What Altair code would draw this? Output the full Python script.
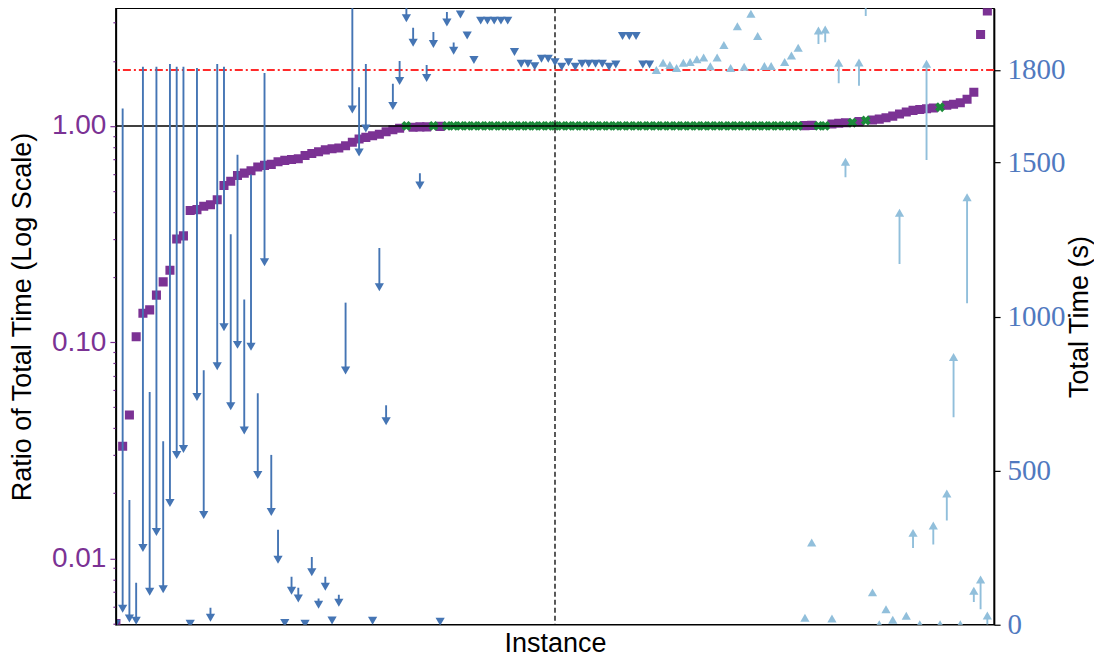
import altair as alt
import pandas as pd

# ---------------- data ----------------
instances = list(range(130))

ratio = [
    0.005, 0.033, 0.046, 0.106, 0.136, 0.141, 0.165, 0.19, 0.215, 0.30,
    0.31, 0.406, 0.41, 0.425, 0.432, 0.456, 0.53, 0.555, 0.59, 0.605,
    0.62, 0.645, 0.657, 0.664, 0.683, 0.693, 0.70, 0.705, 0.73, 0.745,
    0.76, 0.775, 0.785, 0.79, 0.81, 0.84, 0.87, 0.885, 0.90, 0.915,
    0.94, 0.96, 0.975, 1.0, 0.985, 0.99, 0.99, 1.0, 0.995,
    1.0, 1.0, 1.0, 1.0, 1.0, 1.0, 1.0, 1.0, 1.0, 1.0,
    1.0, 1.0, 1.0, 1.0, 1.0, 1.0, 1.0, 1.0, 1.0, 1.0,
    1.0, 1.0, 1.0, 1.0, 1.0, 1.0, 1.0, 1.0, 1.0, 1.0,
    1.0, 1.0, 1.0, 1.0, 1.0, 1.0, 1.0, 1.0, 1.0, 1.0,
    1.0, 1.0, 1.0, 1.0, 1.0, 1.0, 1.0, 1.0, 1.0, 1.0,
    1.0, 1.0, 1.0,
    1.003, 1.006, 1.0, 1.0, 1.02, 1.03, 1.035, 1.035, 1.047, 1.06,
    1.066, 1.075, 1.09, 1.11, 1.135, 1.16, 1.18, 1.19, 1.20, 1.21,
    1.22, 1.245, 1.26, 1.28, 1.33, 1.43, 2.65, 3.4,
]

old_time = [
    600, 1675, 405, 136, 1810, 755, 1810, 595, 1819, 1810,
    1810, 8, 1806, 826, 55, 1819, 1810, 1267, 1525, 1055,
    1461, 751, 1790, 551, 308, 9, 156, 120, 4, 220,
    85, 156, 18, 97, 1045, 2080, 1744, 1819, 15, 1222,
    712, 1755, 1829, 2020, 1937, 1465, 1816, 1923, 11,
    1988, 1889, 1990, 1922, 1842, 1970, 1970, 1970, 1970, 1970,
    1868, 1830, 1830, 1822, 1846, 1846, 1835, 1820, 1835, 1820,
    1830, 1830, 1830, 1830, 1820, 1828, 1920, 1920, 1920, 1828,
    1828, 1790, 1813, 1806, 1796, 1813, 1816, 1825, 1830, 1802,
    1830, 1871, 1796, 1932, 1800, 1972, 1900, 1803, 1803, 2030,
    1816, 1837, 1862,
    22, 265, 1884, 1890, 19, 1757, 1452, 2030, 1749, 1975,
    100, 1.2, 46, 14, 1170, 25, 249, 1.2, 1508, 260,
    1.2, 338, 673, 1.2, 1043, 74, 50, 1,
]

new_time = [
    3, 52, 20, 13, 249, 107, 301, 115, 395, 551,
    570, 3, 739, 356, 23, 839, 965, 709, 908, 630,
    902, 486, 1176, 366, 211, 6, 110, 85, 3, 170,
    65, 123, 14, 71, 825, 1672, 1532, 1610, 13, 1095,
    660, 1683, 1764, 1968, 1888, 1425, 1774, 1884, 10,
    1954, 1862, 1980, 1912, 1832, 1960, 1960, 1960, 1960, 1960,
    1858, 1820, 1820, 1812, 1836, 1836, 1825, 1810, 1825, 1810,
    1820, 1820, 1820, 1820, 1810, 1818, 1910, 1910, 1910, 1818,
    1818, 1800, 1823, 1816, 1806, 1823, 1826, 1835, 1840, 1812,
    1840, 1881, 1806, 1942, 1810, 1982, 1910, 1813, 1813, 2040,
    1826, 1847, 1872,
    23, 267, 1928, 1931, 20, 1823, 1502, 2045, 1824, 2060,
    105, 1.5, 50, 16, 1337, 29, 298, 1.5, 1820, 322,
    1.5, 426, 869, 1.5, 1387, 110, 147, 30,
]

green_instances = [43, 47] + list(range(49, 102)) + [104, 105, 109, 111, 122]

log_ticks = [0.005, 0.006, 0.007, 0.008, 0.009,
             0.01, 0.02, 0.03, 0.04, 0.05, 0.06, 0.07, 0.08, 0.09,
             0.1, 0.2, 0.3, 0.4, 0.5, 0.6, 0.7, 0.8, 0.9,
             1.0, 2.0, 3.0]
time_ticks = [0, 500, 1000, 1500, 1800]
timeout = 1800
middle_instance = 65

PURPLE = "#7b3294"
GREEN = "#1b8a3a"
DARK = "#4575b4"
LIGHT = "#91bfdb"
RED = "#ff2a2a"
RLABEL = "#5079bf"
SANS = "Liberation Sans"
SERIF = "Liberation Serif"

df = pd.DataFrame({"idx": instances, "ratio": ratio, "old": old_time, "new": new_time})
df["kind"] = ["green" if i in green_instances else "purple" for i in instances]
df["dir"] = ["down" if n < o else "up" for o, n in zip(old_time, new_time)]

# ---------------- encodings ----------------
x_enc = alt.X(
    "idx:Q",
    scale=alt.Scale(domain=[0, 130], nice=False, zero=False),
    axis=alt.Axis(title="Instance", labels=False, ticks=False, domain=False, grid=False,
                  titleFont=SANS, titleFontSize=27, titleFontWeight="normal", titleColor="black",
                  titleY=19, titleBaseline="middle"),
)

left_axis = alt.Axis(
    orient="left", values=log_ticks, grid=False,
    labelExpr="datum.value == 0.01 ? '0.01' : datum.value == 0.1 ? '0.10' : datum.value == 1 ? '1.00' : ''",
    tickSize={"condition": {"test": "datum.value == 0.01 || datum.value == 0.1 || datum.value == 1", "value": 6}, "value": 3},
    tickColor=PURPLE, tickWidth=1.2,
    labelColor=PURPLE, labelFont=SANS, labelFontSize=28, labelPadding=4,
    domainColor="black", domainWidth=1.5, zindex=1,
    title="Ratio of Total Time (Log Scale)", titleFont=SANS, titleFontSize=27,
    titleFontWeight="normal", titleColor="black",
    titleX=-93, titleY=308.5, titleAngle=270, titleAlign="center", titleBaseline="middle",
)
left_scale = alt.Scale(type="log", domain=[0.00493, 3.5], nice=False)


def y_left(field):
    return alt.Y(field + ":Q", scale=left_scale, axis=left_axis)


right_axis = alt.Axis(
    orient="right", values=time_ticks, grid=False, format="d",
    tickColor="black", tickSize=6, tickWidth=1.2,
    labelColor=RLABEL, labelFont=SERIF, labelFontSize=29, labelPadding=7,
    domainColor="black", domainWidth=1.5,
    title="Total Time (s)", titleFont=SANS, titleFontSize=27,
    titleFontWeight="normal", titleColor="black",
    titleX=85, titleY=308.5, titleAngle=270, titleAlign="center", titleBaseline="middle",
)
right_scale = alt.Scale(domain=[0, 2000], nice=False, zero=False)


def y_right(field):
    return alt.Y(field + ":Q", scale=right_scale, axis=right_axis)


base = alt.Chart(df)

squares = base.transform_filter(alt.datum.kind == "purple").mark_square(
    size=82, color=PURPLE, opacity=1, clip=True
).encode(x=x_enc, y=y_left("ratio"))

crosses = base.transform_filter(alt.datum.kind == "green").mark_point(
    shape="cross", angle=45, size=100, filled=True, color=GREEN, opacity=1, clip=True
).encode(x=x_enc, y=y_left("ratio"))

one_line = alt.Chart(pd.DataFrame({"ratio": [1.0]})).mark_rule(
    color="black", strokeWidth=1.5
).encode(y=y_left("ratio"))

mid_line = alt.Chart(pd.DataFrame({"idx": [middle_instance]})).mark_rule(
    color="black", strokeWidth=1.3, strokeDash=[5, 3]
).encode(x=x_enc)

left_layer = alt.layer(squares, crosses, one_line, mid_line)

dir_color = alt.Color("dir:N", scale=alt.Scale(domain=["down", "up"], range=[DARK, LIGHT]), legend=None)

stems = base.mark_rule(strokeWidth=1.9, clip=True).encode(
    x=x_enc, y=y_right("old"), y2=alt.Y2("new:Q"), color=dir_color
)

heads = base.mark_point(filled=True, size=85, opacity=1, clip=True).encode(
    x=x_enc, y=y_right("new"), color=dir_color,
    shape=alt.Shape("dir:N", scale=alt.Scale(domain=["down", "up"], range=["triangle-down", "triangle-up"]), legend=None),
)

timeout_line = alt.Chart(pd.DataFrame({"new": [timeout]})).mark_rule(
    color=RED, strokeWidth=1.9, strokeDash=[8, 3, 2, 3]
).encode(y=y_right("new"))

right_layer = alt.layer(timeout_line, stems, heads)

chart = alt.layer(left_layer, right_layer).resolve_scale(
    y="independent", color="independent", shape="independent"
).properties(
    width=879, height=617,
    padding={"left": 108, "top": 0, "right": 100, "bottom": 32},
    autosize=alt.AutoSizeParams(type="none"),
).configure_view(stroke="black", strokeWidth=1.5)

chart.save("out.html", embed_options={"renderer": "svg", "actions": False})
